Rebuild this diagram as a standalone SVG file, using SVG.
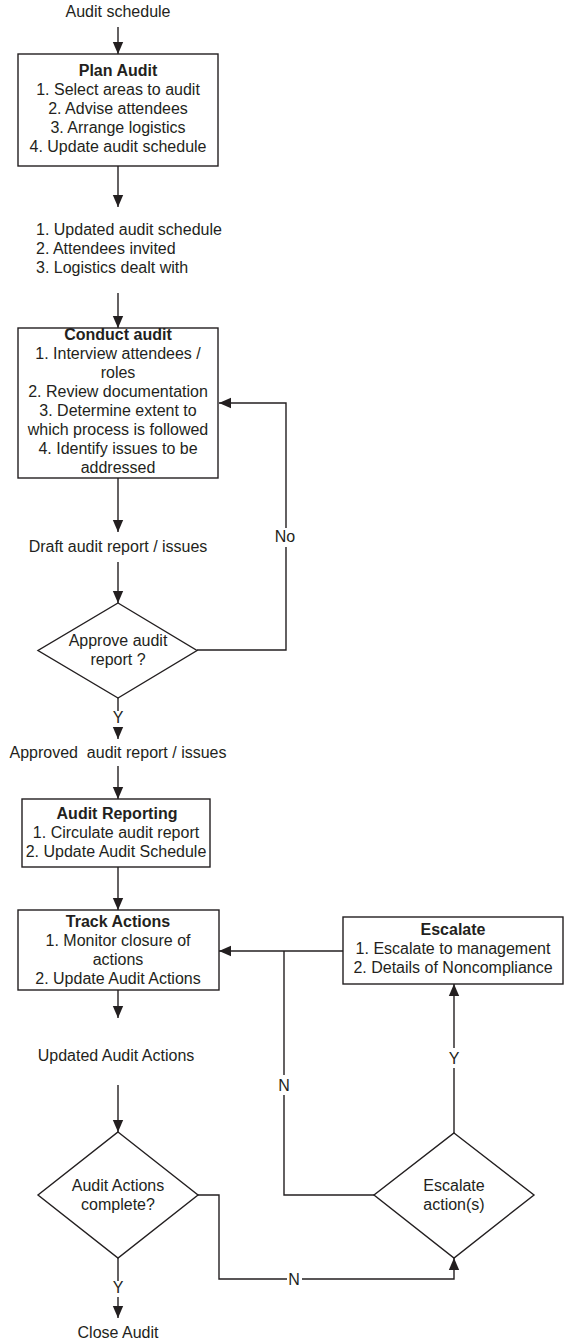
<svg xmlns="http://www.w3.org/2000/svg" width="564" height="1343" viewBox="0 0 564 1343">
<style>
text{font-family:"Liberation Sans",Arial,sans-serif;font-size:16px;fill:#231f20}
.c{text-anchor:middle}
.b{font-weight:bold}
.shape{fill:#fff;stroke:#231f20;stroke-width:1.4}
.ln{fill:none;stroke:#231f20;stroke-width:1.4}
</style>
<defs>
<marker id="ah" viewBox="0 0 12 12" refX="12" refY="6" markerWidth="12" markerHeight="12" markerUnits="userSpaceOnUse" orient="auto">
<path d="M0,0.8 L12,6 L0,11.2 Z" fill="#231f20"/>
</marker>
</defs>
<rect width="564" height="1343" fill="#fff"/>

<g id="connectors">
<line class="ln" x1="118" y1="27" x2="118" y2="54" marker-end="url(#ah)"/>
<line class="ln" x1="118" y1="166" x2="118" y2="207" marker-end="url(#ah)"/>
<line class="ln" x1="118" y1="293" x2="118" y2="328" marker-end="url(#ah)"/>
<line class="ln" x1="118" y1="478" x2="118" y2="532" marker-end="url(#ah)"/>
<line class="ln" x1="118" y1="562" x2="118" y2="603" marker-end="url(#ah)"/>
<polyline class="ln" points="197,650 286,650 286,547"/>
<polyline class="ln" points="286,528 286,403 219,403" marker-end="url(#ah)"/>
<line class="ln" x1="118" y1="698" x2="118" y2="711"/>
<line class="ln" x1="118" y1="727" x2="118" y2="739" marker-end="url(#ah)"/>
<line class="ln" x1="118" y1="766" x2="118" y2="799" marker-end="url(#ah)"/>
<line class="ln" x1="118" y1="867" x2="118" y2="910" marker-end="url(#ah)"/>
<line class="ln" x1="343" y1="951" x2="219" y2="951" marker-end="url(#ah)"/>
<line class="ln" x1="118" y1="990" x2="118" y2="1018" marker-end="url(#ah)"/>
<line class="ln" x1="118" y1="1085" x2="118" y2="1132" marker-end="url(#ah)"/>
<polyline class="ln" points="374,1195 284,1195 284,1095"/>
<line class="ln" x1="284" y1="1075" x2="284" y2="951"/>
<line class="ln" x1="454" y1="1133" x2="454" y2="1068"/>
<line class="ln" x1="454" y1="1048" x2="454" y2="984" marker-end="url(#ah)"/>
<polyline class="ln" points="198,1195 219,1195 219,1279 287,1279"/>
<polyline class="ln" points="302,1279 454,1279 454,1258" marker-end="url(#ah)"/>
<line class="ln" x1="118" y1="1258" x2="118" y2="1281"/>
<line class="ln" x1="118" y1="1297" x2="118" y2="1318" marker-end="url(#ah)"/>
<text class="c" x="285" y="542">No</text>
<text class="c" x="118" y="723">Y</text>
<text class="c" x="284" y="1091">N</text>
<text class="c" x="454" y="1064">Y</text>
<text class="c" x="294" y="1285">N</text>
<text class="c" x="118" y="1293">Y</text>
</g>

<g id="audit-schedule"><text class="c" x="118" y="17">Audit schedule</text></g>

<g id="plan-audit">
<rect class="shape" x="18" y="54" width="200" height="112"/>
<text class="c b" x="118" y="76">Plan Audit</text>
<text class="c" x="118" y="95">1. Select areas to audit</text>
<text class="c" x="118" y="114">2. Advise attendees</text>
<text class="c" x="118" y="133">3. Arrange logistics</text>
<text class="c" x="118" y="152">4. Update audit schedule</text>
</g>

<g id="plan-outputs">
<text x="36" y="235">1. Updated audit schedule</text>
<text x="36" y="254">2. Attendees invited</text>
<text x="36" y="273">3. Logistics dealt with</text>
</g>

<g id="conduct-audit">
<rect class="shape" x="18" y="328" width="200" height="150"/>
<text class="c b" x="118" y="340">Conduct audit</text>
<text class="c" x="118" y="359">1. Interview attendees /</text>
<text class="c" x="118" y="378">roles</text>
<text class="c" x="118" y="397">2. Review documentation</text>
<text class="c" x="118" y="416">3. Determine extent to</text>
<text class="c" x="118" y="435">which process is followed</text>
<text class="c" x="118" y="454">4. Identify issues to be</text>
<text class="c" x="118" y="473">addressed</text>
</g>

<g id="draft-report"><text class="c" x="118" y="552">Draft audit report / issues</text></g>

<g id="approve-report">
<polygon class="shape" points="118,603 197,650.5 118,698 38,650.5"/>
<text class="c" x="118" y="646">Approve audit</text>
<text class="c" x="118" y="665">report ?</text>
</g>

<g id="approved-report"><text class="c" x="118" y="758" xml:space="preserve">Approved  audit report / issues</text></g>

<g id="audit-reporting">
<rect class="shape" x="22" y="799" width="188" height="68"/>
<text class="c b" x="117" y="819">Audit Reporting</text>
<text class="c" x="116" y="838">1. Circulate audit report</text>
<text class="c" x="116" y="857">2. Update Audit Schedule</text>
</g>

<g id="track-actions">
<rect class="shape" x="18" y="910" width="201" height="80"/>
<text class="c b" x="118" y="927">Track Actions</text>
<text class="c" x="118" y="946">1. Monitor closure of</text>
<text class="c" x="118" y="965">actions</text>
<text class="c" x="118" y="984">2. Update Audit Actions</text>
</g>

<g id="escalate">
<rect class="shape" x="343" y="917" width="220" height="67"/>
<text class="c b" x="453" y="935">Escalate</text>
<text class="c" x="453" y="954">1. Escalate to management</text>
<text class="c" x="453" y="973">2. Details of Noncompliance</text>
</g>

<g id="updated-actions"><text class="c" x="116" y="1061">Updated Audit Actions</text></g>

<g id="actions-complete">
<polygon class="shape" points="118,1132 198,1195 118,1258 38,1195"/>
<text class="c" x="118" y="1191">Audit Actions</text>
<text class="c" x="118" y="1210">complete?</text>
</g>

<g id="escalate-actions">
<polygon class="shape" points="454,1133 534,1195 454,1258 374,1195"/>
<text class="c" x="454" y="1191">Escalate</text>
<text class="c" x="454" y="1210">action(s)</text>
</g>

<g id="close-audit"><text class="c" x="118" y="1338">Close Audit</text></g>
</svg>
